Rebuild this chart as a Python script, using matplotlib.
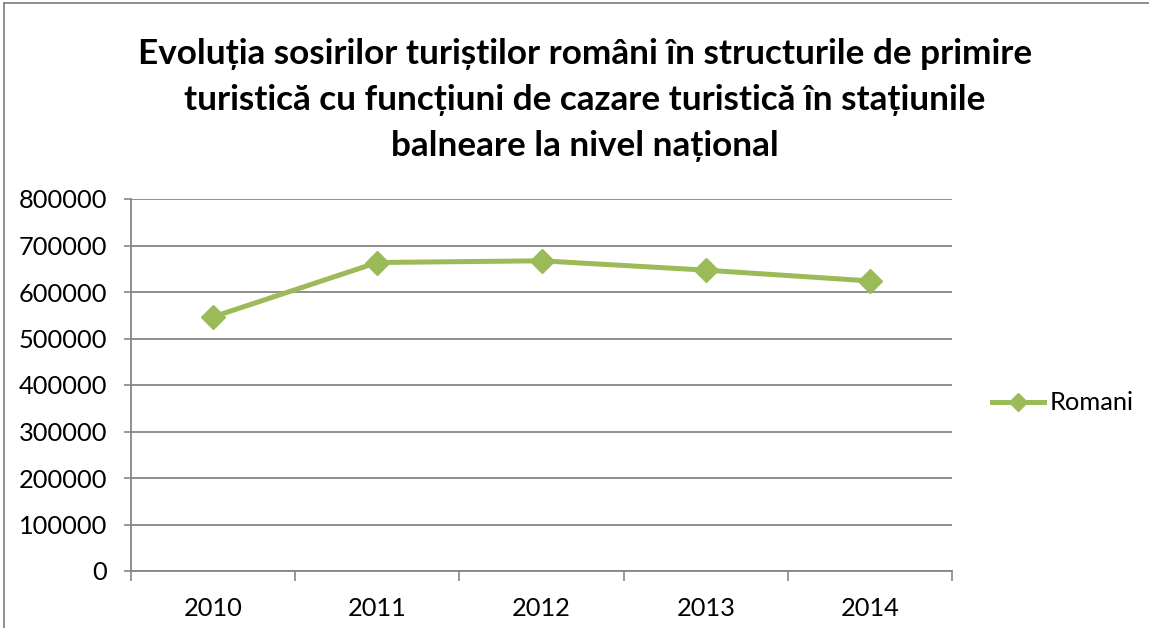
import numpy as np
import matplotlib
matplotlib.use("Agg")
import matplotlib.pyplot as plt

YEARS = ["2010", "2011", "2012", "2013", "2014"]
ROMANI = [546500, 663400, 667100, 647000, 623800]
Y_TICKS = [0, 100000, 200000, 300000, 400000, 500000, 600000, 700000, 800000]

TITLE = ("Evoluția sosirilor turiștilor români în structurile de primire\n"
         "turistică cu funcțiuni de cazare turistică în stațiunile\n"
         "balneare la nivel național")

GREEN = "#9BBB59"
GRID = "#868686"

plt.rcParams["font.family"] = ["Lato", "DejaVu Sans"]

W, H = 1149, 628
fig = plt.figure(figsize=(W / 100, H / 100), dpi=100)
ax = fig.add_axes([131 / W, 1 - 571 / H, (952 - 131) / W, (571 - 199) / H])

x = np.arange(len(YEARS))
ax.plot(x, ROMANI, color=GREEN, lw=3.6, marker="D", ms=12, label="Romani")

ax.set_xlim(-0.5, len(YEARS) - 0.5)
ax.set_ylim(0, 800000)
ax.set_yticks(Y_TICKS)
ax.set_yticklabels([str(v) for v in Y_TICKS], fontsize=18.3)
ax.set_xticks(x)
ax.set_xticklabels(YEARS, fontsize=18.3)
ax.tick_params(axis="x", length=0, pad=19)
ax.set_xticks(np.arange(-0.5, len(YEARS)), minor=True)
ax.tick_params(axis="x", which="minor", length=7, color=GRID, width=1.2)
ax.tick_params(axis="y", length=5, color=GRID, width=1.2, pad=12)

ax.grid(axis="y", color=GRID, lw=1.3)
ax.set_axisbelow(True)
for s in ["top", "right"]:
    ax.spines[s].set_visible(False)
for s in ["left", "bottom"]:
    ax.spines[s].set_color(GRID)
    ax.spines[s].set_linewidth(1.3)

fig.text(585 / W, 1 - 100 / H, TITLE, ha="center", va="center",
         fontsize=25.3, fontweight="bold", linespacing=1.55)

ax.legend(loc="center left", bbox_to_anchor=(992 / W, 1 - 403 / H),
          bbox_transform=fig.transFigure, frameon=False, fontsize=18.3,
          handlelength=2.05, handletextpad=0.2, borderaxespad=0, borderpad=0,
          markerscale=0.75)

# outer chart border
fig.add_artist(plt.Line2D([4 / W, 4 / W], [0, 1 - 3 / H], color=GRID, lw=1.3,
                          transform=fig.transFigure))
fig.add_artist(plt.Line2D([4 / W, 1], [1 - 3 / H, 1 - 3 / H], color=GRID, lw=1.3,
                          transform=fig.transFigure))

fig.savefig("out.png", dpi=100)
